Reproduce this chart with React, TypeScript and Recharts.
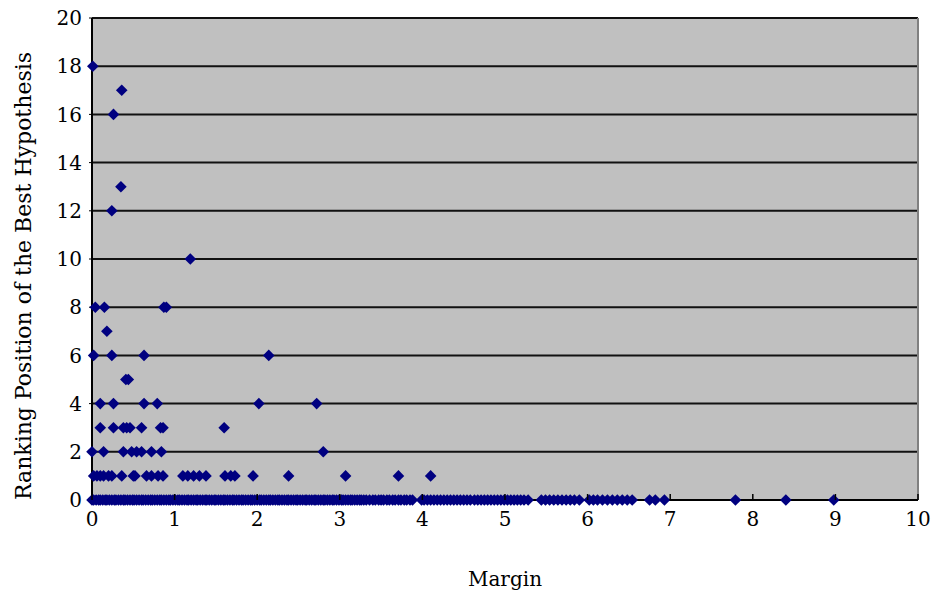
import { ScatterChart, Scatter, XAxis, YAxis, CartesianGrid, ReferenceLine } from "recharts";

// margins of hypotheses, grouped by ranking position of the best hypothesis
const rank0Margins = [
  0.0, 0.02, 0.05, 0.08, 0.1, 0.13, 0.16, 0.18, 0.21, 0.24, 0.27, 0.29, 0.32, 0.35, 0.38, 0.4,
  0.43, 0.46, 0.49, 0.51, 0.54, 0.57, 0.6, 0.62, 0.65, 0.68, 0.71, 0.73, 0.76, 0.79, 0.82, 0.84,
  0.87, 0.9, 0.93, 0.95, 0.98, 1.01, 1.04, 1.06, 1.09, 1.12, 1.15, 1.17, 1.2, 1.23, 1.26, 1.28,
  1.31, 1.34, 1.37, 1.39, 1.42, 1.45, 1.48, 1.5, 1.53, 1.56, 1.59, 1.61, 1.64, 1.67, 1.7, 1.72,
  1.75, 1.78, 1.81, 1.83, 1.86, 1.89, 1.92, 1.94, 1.97, 2.0, 2.03, 2.05, 2.08, 2.11, 2.14, 2.16,
  2.19, 2.22, 2.25, 2.27, 2.3, 2.33, 2.36, 2.38, 2.41, 2.44, 2.47, 2.49, 2.52, 2.55, 2.58, 2.6,
  2.63, 2.66, 2.69, 2.71, 2.74, 2.77, 2.8, 2.82, 2.85, 2.88, 2.91, 2.93, 2.96, 2.99, 3.02, 3.04,
  3.07, 3.1, 3.13, 3.15, 3.18, 3.21, 3.24, 3.26, 3.29, 3.32, 3.36, 3.4, 3.43, 3.47, 3.5, 3.53,
  3.57, 3.6, 3.64, 3.67, 3.71, 3.74, 3.78, 3.81, 3.85, 3.88, 3.99, 4.02, 4.06, 4.1, 4.14, 4.18,
  4.22, 4.26, 4.3, 4.34, 4.38, 4.42, 4.46, 4.5, 4.54, 4.58, 4.63, 4.67, 4.71, 4.75, 4.79, 4.83,
  4.87, 4.91, 4.95, 4.99, 5.03, 5.07, 5.11, 5.15, 5.19, 5.23, 5.28, 5.44, 5.49, 5.54, 5.59, 5.64,
  5.69, 5.74, 5.79, 5.84, 5.9, 6.02, 6.07, 6.12, 6.18, 6.24, 6.3, 6.36, 6.42, 6.48, 6.54, 6.75,
  6.82, 6.93, 7.79, 8.4, 8.98,
];
const rank1Margins = [
  0.02, 0.06, 0.1, 0.14, 0.2, 0.24, 0.36, 0.5, 0.52, 0.66, 0.72, 0.8, 0.86, 1.1, 1.16, 1.23,
  1.3, 1.38, 1.61, 1.68, 1.73, 1.95, 2.38, 3.07, 3.71, 4.1,
];
const rank2Margins = [0.0, 0.14, 0.38, 0.48, 0.54, 0.6, 0.72, 0.84, 2.8];
const rank3Margins = [0.1, 0.26, 0.38, 0.42, 0.46, 0.6, 0.83, 0.86, 1.6];
const rank4Margins = [0.1, 0.26, 0.63, 0.79, 2.02, 2.72];
const rank5Margins = [0.41, 0.44];
const rank6Margins = [0.02, 0.24, 0.63, 2.14];
const rank7Margins = [0.18];
const rank8Margins = [0.04, 0.15, 0.87, 0.9];
const rank10Margins = [1.19];
const rank12Margins = [0.24];
const rank13Margins = [0.35];
const rank16Margins = [0.26];
const rank17Margins = [0.36];
const rank18Margins = [0.01];

const marginTicks = [0, 1, 2, 3, 4, 5, 6, 7, 8, 9, 10];
const rankTicks = [0, 2, 4, 6, 8, 10, 12, 14, 16, 18, 20];

const byRank: [number, number[]][] = [
  [0, rank0Margins], [1, rank1Margins], [2, rank2Margins], [3, rank3Margins],
  [4, rank4Margins], [5, rank5Margins], [6, rank6Margins], [7, rank7Margins],
  [8, rank8Margins], [10, rank10Margins], [12, rank12Margins], [13, rank13Margins],
  [16, rank16Margins], [17, rank17Margins], [18, rank18Margins],
];
const points = byRank.flatMap(([rank, ms]) => ms.map(margin => ({ margin, rank })));

const FONT = "DejaVu Serif";

function Diamond(props: any) {
  const { cx, cy } = props;
  const r = 5.8;
  return (
    <path
      d={`M${cx},${cy - r}L${cx + r},${cy}L${cx},${cy + r}L${cx - r},${cy}Z`}
      fill="#000080"
    />
  );
}

// x tick: label plus a short tick mark pointing up into the plot
function MarginTick(props: any) {
  const { x, y, payload } = props;
  const axisY = y - 12;
  return (
    <g>
      <line x1={x} y1={axisY} x2={x} y2={axisY - 6} stroke="#000" strokeWidth={1.5} />
      <text x={x} y={y} dy={14} textAnchor="middle" fill="#000" fontSize={20} style={{ fontFamily: FONT }}>
        {payload.value}
      </text>
    </g>
  );
}

export default function App() {
  return (
    <div style={{ position: "absolute", left: 0, top: 0, background: "#fff", fontFamily: FONT }}>
      <ScatterChart width={940} height={601} margin={{ top: 18, right: 22, bottom: 0, left: 0 }}>
        <CartesianGrid
          vertical={false}
          stroke="#111"
          strokeWidth={2}
          fill="#C0C0C0"
          fillOpacity={1}
        />
        <XAxis
          type="number"
          dataKey="margin"
          domain={[0, 10]}
          ticks={marginTicks}
          height={101}
          tickSize={0}
          tickMargin={12}
          tickLine={false}
          tick={<MarginTick />}
          axisLine={{ stroke: "#000", strokeWidth: 2 }}
          label={{ value: "Margin", position: "insideBottom", offset: 15, fill: "#000", fontSize: 20, style: { fontFamily: FONT } }}
        />
        <YAxis
          type="number"
          dataKey="rank"
          domain={[0, 20]}
          ticks={rankTicks}
          width={92}
          tickSize={3}
          tickMargin={7}
          tickLine={{ stroke: "#000" }}
          axisLine={{ stroke: "#000", strokeWidth: 2 }}
          tick={{ fill: "#000", fontSize: 20, style: { fontFamily: FONT } }}
          label={{
            value: "Ranking Position of the Best Hypothesis",
            angle: -90,
            position: "center",
            dx: -23,
            dy: 17,
            fill: "#000",
            fontSize: 22,
            style: { fontFamily: FONT },
          }}
        />
        <ReferenceLine x={10} stroke="#808080" strokeWidth={2} />
        <Scatter data={points} shape={<Diamond />} isAnimationActive={false} />
      </ScatterChart>
    </div>
  );
}
